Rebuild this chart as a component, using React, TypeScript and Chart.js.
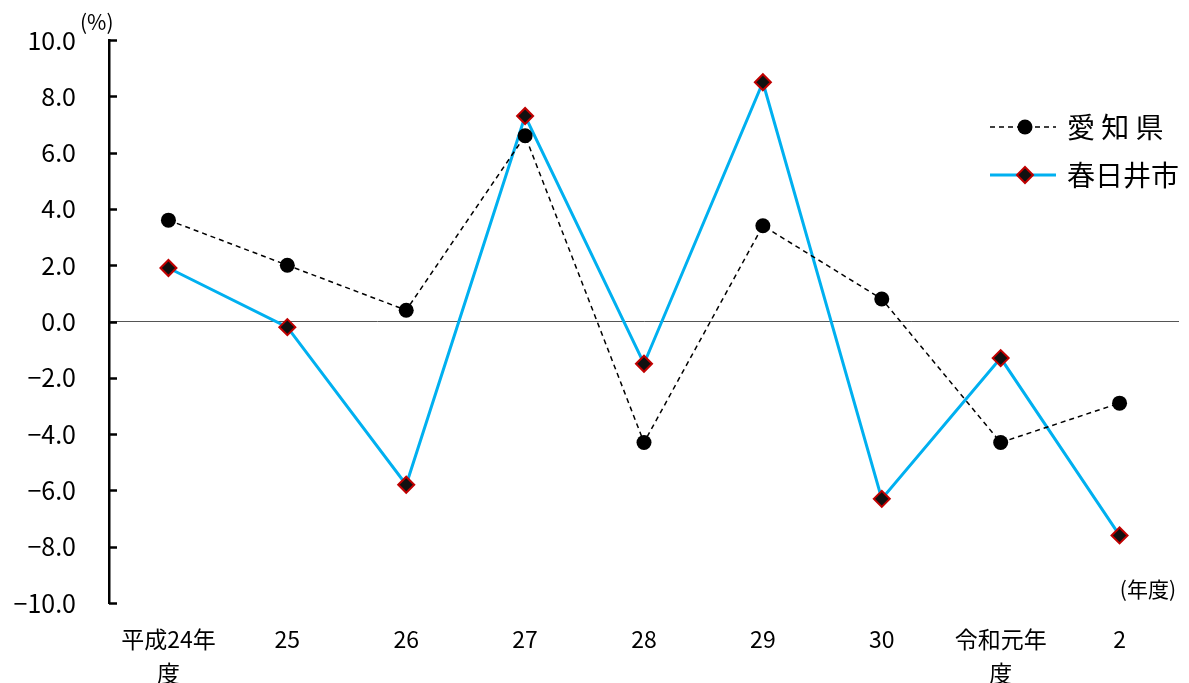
import React, { useEffect, useRef } from "react";
import { Chart, registerables } from "chart.js";

Chart.register(...registerables);

const categories: (string | string[])[] = [
  ["平成24年", "度"],
  "25",
  "26",
  "27",
  "28",
  "29",
  "30",
  ["令和元年", "度"],
  "2",
];
const aichiValues = [3.6, 2.0, 0.4, 6.6, -4.3, 3.4, 0.8, -4.3, -2.9];
const kasugaiValues = [1.9, -0.2, -5.8, 7.3, -1.5, 8.5, -6.3, -1.3, -7.6];
const seriesNames = ["愛 知 県", "春日井市"];
const yUnit = "(%)";
const xUnit = "(年度)";

const FONT = "'Noto Sans CJK JP', 'Noto Sans', sans-serif";
const BLUE = "#00b0f0";

const overlayPlugin = {
  id: "overlay",
  afterDraw(chart: any) {
    const ctx = chart.ctx as CanvasRenderingContext2D;
    const y = chart.scales.y;
    const area = chart.chartArea;
    ctx.save();
    ctx.strokeStyle = "#000";
    ctx.lineWidth = 2.5;
    y.ticks.forEach((t: any) => {
      const py = Math.round(y.getPixelForValue(t.value)) + 0.5;
      ctx.beginPath();
      ctx.moveTo(area.left, py);
      ctx.lineTo(area.left + 8, py);
      ctx.stroke();
    });
    ctx.fillStyle = "#000";
    ctx.font = `21px ${FONT}`;
    ctx.textAlign = "left";
    ctx.textBaseline = "middle";
    ctx.fillText(yUnit, 80, 22);
    ctx.textAlign = "right";
    ctx.fillText(xUnit, 1176, 589);

    const lx0 = 990, lx1 = 1056, tx = 1067;
    const rows = [127, 175];
    ctx.strokeStyle = "#000";
    ctx.lineWidth = 1.5;
    ctx.setLineDash([5, 4]);
    ctx.beginPath();
    ctx.moveTo(lx0, rows[0]);
    ctx.lineTo(lx1, rows[0]);
    ctx.stroke();
    ctx.setLineDash([]);
    ctx.beginPath();
    ctx.arc((lx0 + lx1) / 2 + 2, rows[0], 7.5, 0, Math.PI * 2);
    ctx.fillStyle = "#000";
    ctx.fill();
    ctx.strokeStyle = BLUE;
    ctx.lineWidth = 3;
    ctx.beginPath();
    ctx.moveTo(lx0, rows[1]);
    ctx.lineTo(lx1, rows[1]);
    ctx.stroke();
    const cx = (lx0 + lx1) / 2 + 2, cy = rows[1], r = 8;
    ctx.beginPath();
    ctx.moveTo(cx, cy - r);
    ctx.lineTo(cx + r, cy);
    ctx.lineTo(cx, cy + r);
    ctx.lineTo(cx - r, cy);
    ctx.closePath();
    ctx.fillStyle = "#111";
    ctx.fill();
    ctx.strokeStyle = "#c00000";
    ctx.lineWidth = 2;
    ctx.stroke();

    ctx.fillStyle = "#000";
    ctx.font = `28px ${FONT}`;
    ctx.textAlign = "left";
    ctx.textBaseline = "middle";
    ctx.fillText(seriesNames[0], tx, rows[0]);
    ctx.fillText(seriesNames[1], tx, rows[1]);
    ctx.restore();
  },
};

export default function App() {
  const ref = useRef<HTMLCanvasElement>(null);
  useEffect(() => {
    if (!ref.current) return;
    const chart = new Chart(ref.current, {
      type: "line",
      data: {
        labels: categories as any,
        datasets: [
          {
            label: seriesNames[0],
            data: aichiValues,
            borderColor: "#000",
            borderWidth: 1.5,
            borderDash: [5, 4],
            pointStyle: "circle",
            pointRadius: 7.5,
            pointBackgroundColor: "#000",
            pointBorderColor: "#000",
            pointBorderWidth: 0,
            tension: 0,
          },
          {
            label: seriesNames[1],
            data: kasugaiValues,
            borderColor: BLUE,
            borderWidth: 3,
            pointStyle: "rectRot",
            pointRadius: 8,
            pointBackgroundColor: "#111",
            pointBorderColor: "#c00000",
            pointBorderWidth: 2,
            tension: 0,
          },
        ],
      },
      options: {
        animation: false,
        responsive: false,
        maintainAspectRatio: false,
        layout: { padding: { left: 0, right: 8, top: 0, bottom: 0 } },
        plugins: {
          legend: { display: false },
          tooltip: { enabled: false },
        },
        scales: {
          x: {
            type: "category",
            offset: true,
            border: { display: false },
            grid: { display: false, drawTicks: false },
            ticks: {
              color: "#000",
              padding: 20,
              maxRotation: 0,
              autoSkip: false,
              font: { family: FONT, size: 23, lineHeight: 1.45 },
            },
            afterFit(scale: any) {
              scale.height = 80;
            },
          },
          y: {
            min: -10,
            max: 10,
            border: { display: true, color: "#000", width: 2.5 },
            grid: {
              drawTicks: false,
              color: (c: any) => (c.tick && c.tick.value === 0 ? "#555" : "rgba(0,0,0,0)"),
              lineWidth: 1,
            },
            ticks: {
              stepSize: 2,
              color: "#000",
              padding: 33,
              font: { family: FONT, size: 25 },
              callback: (v: any) => {
                const n = Number(v);
                const s = Math.abs(n).toFixed(1);
                return n < 0 ? "\u2212" + s : s;
              },
            },
            afterFit(scale: any) {
              scale.width = 109;
              scale.paddingTop = 40;
            },
          },
        },
      },
      plugins: [overlayPlugin],
    });
    return () => chart.destroy();
  }, []);
  return (
    <div style={{ position: "fixed", left: 0, top: 0, width: 1189, height: 683, background: "#fff" }}>
      <canvas ref={ref} width={1189} height={683} style={{ width: 1189, height: 683 }} />
    </div>
  );
}
